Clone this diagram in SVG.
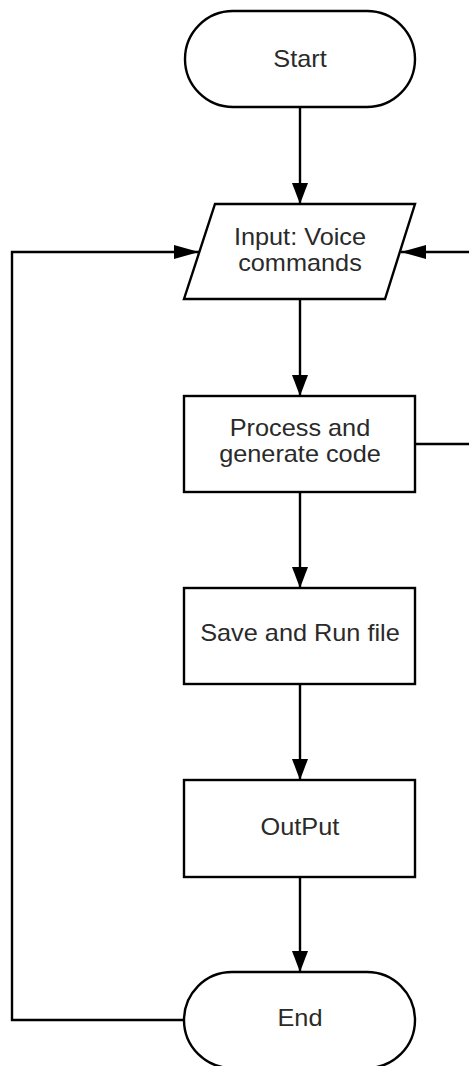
<svg xmlns="http://www.w3.org/2000/svg" width="469" height="1066" viewBox="0 0 469 1066">
  <style>
    .shape { fill: #ffffff; stroke: #000000; stroke-width: 2.4; }
    .conn { fill: none; stroke: #000000; stroke-width: 2.4; }
    .lbl { font-family: "Liberation Sans", Arial, sans-serif; font-size: 23px; fill: #2a2a2a; text-anchor: middle; }
  </style>
  <defs>
    <marker id="av" markerUnits="userSpaceOnUse" markerWidth="21" markerHeight="16" refX="21" refY="8" orient="auto">
      <path d="M0,0 L21,8 L0,16 z" fill="#000000"/>
    </marker>
    <marker id="ah" markerUnits="userSpaceOnUse" markerWidth="25" markerHeight="14" refX="25" refY="7" orient="auto">
      <path d="M0,0 L25,7 L0,14 z" fill="#000000"/>
    </marker>
  </defs>
  <rect width="469" height="1066" fill="#ffffff"/>

  <g id="connectors">
    <path class="conn" d="M300,107 V204" marker-end="url(#av)"/>
    <path class="conn" d="M300,299 V396" marker-end="url(#av)"/>
    <path class="conn" d="M300,492 V588" marker-end="url(#av)"/>
    <path class="conn" d="M300,684 V780" marker-end="url(#av)"/>
    <path class="conn" d="M300,877 V972" marker-end="url(#av)"/>
    <path class="conn" d="M184,1020 H12 V252 H199" marker-end="url(#ah)"/>
    <path class="conn" d="M415,444 H474 V252 H401" marker-end="url(#ah)"/>
  </g>

  <g id="start">
    <rect class="shape" x="185" y="11" width="230" height="96" rx="48" ry="48"/>
    <text class="lbl" x="272.7" y="67" transform="scale(1.1,1)">Start</text>
  </g>

  <g id="input">
    <polygon class="shape" points="215,204 415,204 385,299 184,299"/>
    <text class="lbl" x="272.7" y="245" transform="scale(1.1,1)">Input: Voice</text>
    <text class="lbl" x="272.7" y="271" transform="scale(1.1,1)">commands</text>
  </g>

  <g id="process">
    <rect class="shape" x="184" y="396" width="231" height="96"/>
    <text class="lbl" x="272.7" y="436" transform="scale(1.1,1)">Process and</text>
    <text class="lbl" x="272.7" y="462" transform="scale(1.1,1)">generate code</text>
  </g>

  <g id="save">
    <rect class="shape" x="184" y="588" width="231" height="96"/>
    <text class="lbl" x="272.7" y="641" transform="scale(1.1,1)">Save and Run file</text>
  </g>

  <g id="output">
    <rect class="shape" x="184" y="780" width="231" height="97"/>
    <text class="lbl" x="272.7" y="835" transform="scale(1.1,1)">OutPut</text>
  </g>

  <g id="end">
    <rect class="shape" x="184" y="972" width="231" height="96" rx="48" ry="48"/>
    <text class="lbl" x="272.7" y="1026" transform="scale(1.1,1)">End</text>
  </g>
</svg>
